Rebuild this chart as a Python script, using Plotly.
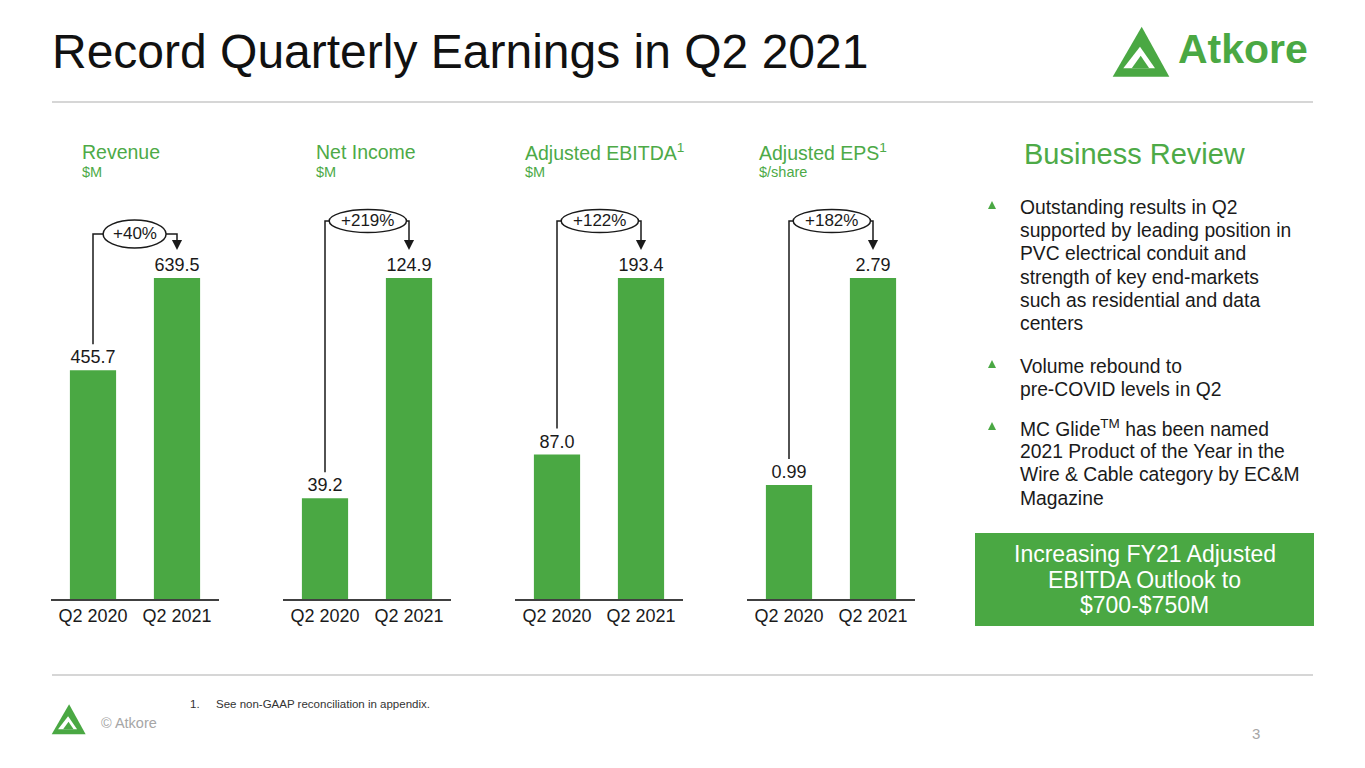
import plotly.graph_objects as go

# page body has an 8px margin, so the figure is a bit smaller and shifted
OFF = 8
W, H = 1365 - OFF, 768 - OFF
GREEN = "#4AA843"
TXT_GREEN = "#4DAA47"
DARK = "#1a1a1a"
FONT = "Arial, Liberation Sans, sans-serif"

# data
metrics = ["Revenue", "Net Income", "Adjusted EBITDA<sup>1</sup>", "Adjusted EPS<sup>1</sup>"]
units = ["$M", "$M", "$M", "$/share"]
periods = ["Q2 2020", "Q2 2021"]
revenue = [455.7, 639.5]
net_income = [39.2, 124.9]
adj_ebitda = [87.0, 193.4]
adj_eps = [0.99, 2.79]
growth = ["+40%", "+219%", "+122%", "+182%"]
formats = [".1f", ".1f", ".1f", ".2f"]

bullets = [
    ["Outstanding results in Q2", "supported by leading position in", "PVC electrical conduit and",
     "strength of key end-markets", "such as residential and data", "centers"],
    ["Volume rebound to", "pre-COVID levels in Q2"],
    ["MC Glide<sup>TM</sup> has been named", "2021 Product of the Year in the",
     "Wire & Cable category by EC&M", "Magazine"],
]
outlook = ["Increasing FY21 Adjusted", "EBITDA Outlook to", "$700-$750M"]


def px(x):
    return (x - OFF) / W


def py(y):
    return 1 - (y - OFF) / H


def note(x, y, text, size, color, xanchor="center", **kw):
    return dict(xref="paper", yref="paper", x=px(x), y=py(y), text=text, showarrow=False,
                xanchor=xanchor, yanchor="middle",
                font=dict(size=size, color=color, family=FONT), **kw)


series = [revenue, net_income, adj_ebitda, adj_eps]
ax_left = [51, 283, 515, 747]
head_x = [80, 314, 523, 757]
bracket_px = [44, 57, 57, 57]
ellipse_px = [28, 23, 23, 23]
ellipse_x = [(0.12, 0.87), (0.05, 0.97), (0.05, 0.97), (0.05, 0.97)]
BASE, TOP, AXTOP = 599, 278, 190

fig = go.Figure()
shapes = []
annotations = []
layout_axes = {}

for i, vals in enumerate(series):
    n = "" if i == 0 else str(i + 1)
    xa, ya = "x" + n, "y" + n
    m = max(vals)
    u = m / (BASE - TOP)  # data units per pixel
    fig.add_trace(go.Bar(
        x=periods, y=vals, xaxis=xa, yaxis=ya,
        marker_color=GREEN, marker_line_width=0,
        text=[f"{v:{formats[i]}}" for v in vals], textposition="outside",
        textfont=dict(size=18, color=DARK, family=FONT),
        constraintext="none", cliponaxis=False, hoverinfo="skip",
    ))
    layout_axes["xaxis" + n] = dict(
        domain=[px(ax_left[i]), px(ax_left[i] + 168)], anchor=ya,
        showline=True, linecolor="#404040", linewidth=1.5, showgrid=False,
        ticks="", tickfont=dict(size=18, color=DARK, family=FONT), fixedrange=True,
    )
    layout_axes["yaxis" + n] = dict(
        domain=[py(BASE), py(AXTOP)], anchor=xa,
        range=[0, m * (BASE - AXTOP) / (BASE - TOP)], visible=False, fixedrange=True,
    )

    # growth bracket
    yb = m + bracket_px[i] * u
    tip = m + 28 * u
    e0, e1 = ellipse_x[i]
    line = dict(color=DARK, width=1.5)
    shapes.append(dict(type="path", xref=xa, yref=ya, line=line,
                       path=f"M 0 {vals[0] + 26 * u} L 0 {yb} L {e0} {yb}"))
    shapes.append(dict(type="path", xref=xa, yref=ya, line=line,
                       path=f"M {e1} {yb} L 1 {yb} L 1 {tip + 9 * u}"))
    shapes.append(dict(type="path", xref=xa, yref=ya, line_width=0, fillcolor=DARK,
                       path=f"M 0.94 {tip + 10 * u} L 1.06 {tip + 10 * u} L 1 {tip} Z"))
    shapes.append(dict(type="circle", xref=xa, yref=ya, line=line, fillcolor="white",
                       x0=e0, x1=e1, y0=yb - ellipse_px[i] / 2 * u, y1=yb + ellipse_px[i] / 2 * u))
    annotations.append(dict(xref=xa, yref=ya, x=(e0 + e1) / 2, y=yb, text=growth[i],
                            xanchor="center", yanchor="middle",
                            showarrow=False, font=dict(size=17, color=DARK, family=FONT)))

    # chart headers
    annotations.append(note(head_x[i], 152, metrics[i], 19.5, TXT_GREEN, "left"))
    annotations.append(note(head_x[i], 172, units[i], 14.5, TXT_GREEN, "left"))

# title and separators
annotations.append(note(50, 52, "Record Quarterly Earnings in Q2 2021", 48, "#111111", "left"))
for yy in (102, 675):
    shapes.append(dict(type="line", xref="paper", yref="paper", x0=px(52), x1=px(1313),
                       y0=py(yy), y1=py(yy), line=dict(color="#C9C9C9", width=1.5)))

# business review
annotations.append(note(1135, 154, "Business Review", 29, TXT_GREEN))
starts = [207, 366, 428]
for lines, y0 in zip(bullets, starts):
    ty = y0 - 2
    shapes.append(dict(type="path", xref="paper", yref="paper", fillcolor=GREEN, line_width=0,
                       path=f"M {px(988)} {py(ty + 4)} L {px(996)} {py(ty + 4)} L {px(992)} {py(ty - 4)} Z"))
    for k, t in enumerate(lines):
        annotations.append(note(1018, y0 + k * 23.4, t, 19.3, DARK, "left"))

shapes.append(dict(type="rect", xref="paper", yref="paper", x0=px(975), x1=px(1314),
                   y0=py(626), y1=py(533), fillcolor=GREEN, line_width=0))
for k, t in enumerate(outlook):
    annotations.append(note(1144.5, 554 + k * 25.5, t, 23, "white"))

# footer
annotations.append(note(188, 704, "1.", 11.5, "#333333", "left"))
annotations.append(note(214, 704, "See non-GAAP reconciliation in appendix.", 11.5, "#333333", "left"))
annotations.append(note(99, 723, "© Atkore", 14.5, "#A6A6A6", "left"))
annotations.append(note(1256, 733, "3", 15, "#A6A6A6"))


# Atkore logo mark
def logo(x0, y0, s):
    def p(pts):
        return "M " + " L ".join(f"{px(x0 + a * s)} {py(y0 - b * s)}" for a, b in pts) + " Z"
    return [
        dict(type="path", xref="paper", yref="paper", fillcolor=GREEN, line_width=0,
             path=p([(0, 0), (29, 50), (56.6, 0)])),
        dict(type="path", xref="paper", yref="paper", fillcolor="white", line_width=0,
             path=p([(10.6, 8.4), (27.3, 30), (42.3, 8.4)])),
        dict(type="path", xref="paper", yref="paper", fillcolor=GREEN, line_width=0,
             path=p([(19, 8.4), (28, 21), (36.5, 8.4)])),
    ]


shapes += logo(1112.7, 76.7, 1.0)
shapes += logo(51.7, 734.3, 0.6)
annotations.append(note(1243, 49, "<b>Atkore</b>", 41, GREEN))

fig.update_layout(
    width=W, height=H, margin=dict(l=0, r=0, t=0, b=0),
    paper_bgcolor="white", plot_bgcolor="white", showlegend=False,
    bargap=0.45, shapes=shapes, annotations=annotations, **layout_axes,
)
fig.write_html("out.html")
